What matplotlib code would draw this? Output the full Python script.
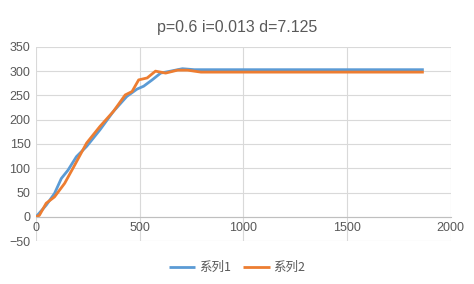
import matplotlib
matplotlib.use("Agg")
import matplotlib.pyplot as plt

plt.rcParams['font.family'] = ['Liberation Sans', 'Noto Sans CJK SC', 'DejaVu Sans']

# series
x1 = [0, 49, 89, 122, 154, 195, 244, 308, 373, 438, 487, 519, 560, 601, 649, 706, 763, 1870]
y1 = [0, 24, 48, 79, 96, 124, 145, 179, 217, 248, 263, 269, 282, 296, 300, 305, 303, 303]
x2 = [0, 16, 49, 89, 138, 187, 244, 308, 373, 430, 463, 495, 536, 576, 625, 682, 731, 795, 1870]
y2 = [0, 3, 28, 41, 69, 107, 152, 186, 217, 251, 258, 282, 286, 300, 296, 302, 302, 298, 298]
labels = ["系列1", "系列2"]
title = "p=0.6 i=0.013 d=7.125"

BLUE = "#5B9BD5"
ORANGE = "#ED7D31"
GRAY = "#595959"

fig = plt.figure(figsize=(4.74, 2.84), dpi=100)
ax = fig.add_axes([0.076, 0.151, 0.875, 0.684])

ax.plot(x1, y1, color=BLUE, lw=2.0, label=labels[0], solid_capstyle="butt")
ax.plot(x2, y2, color=ORANGE, lw=2.0, label=labels[1], solid_capstyle="butt")

ax.set_xlim(0, 2000)
ax.set_ylim(-50, 350)
ax.set_xticks(range(0, 2001, 500))
ax.set_yticks(range(-50, 351, 50))
ax.grid(True, color="#D9D9D9", lw=0.8)
ax.set_axisbelow(True)

for s in ["top", "right", "left"]:
    ax.spines[s].set_visible(False)
ax.spines["bottom"].set_position(("data", 0))
ax.spines["bottom"].set_color("#BFBFBF")
ax.tick_params(length=0, labelsize=9, labelcolor=GRAY, pad=4)

fig.suptitle(title, y=0.93, fontsize=11.5, color=GRAY)
fig.legend(loc="lower center", bbox_to_anchor=(0.5, -0.005), ncol=2, frameon=False,
           labelcolor=GRAY, handlelength=2.1, handletextpad=0.3, columnspacing=1.0,
           prop={'family': ['Noto Sans CJK SC', 'DejaVu Sans'], 'size': 9})

fig.savefig("out.png", dpi=100, facecolor="white")
